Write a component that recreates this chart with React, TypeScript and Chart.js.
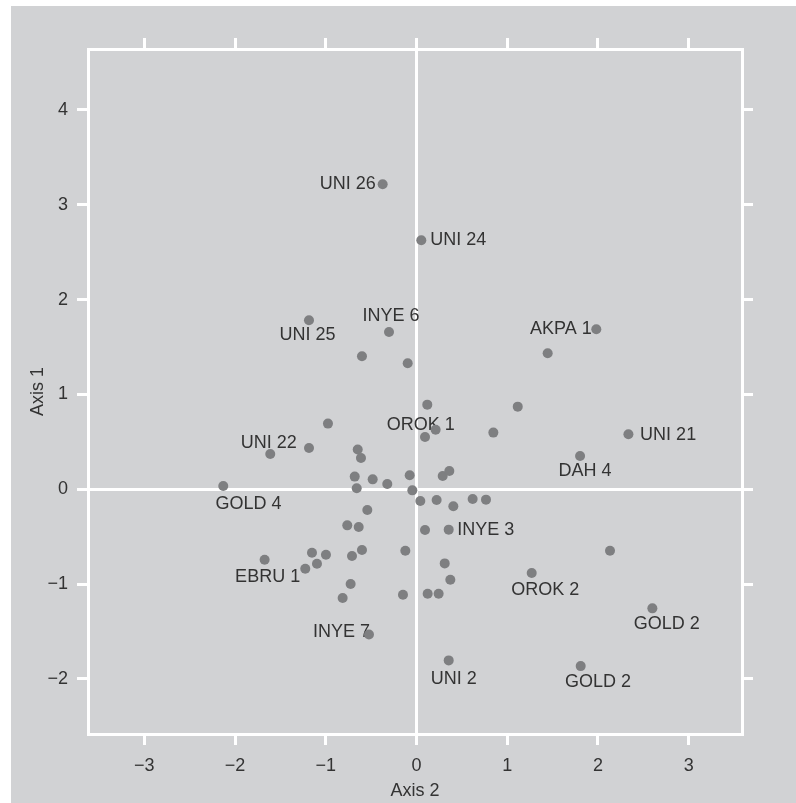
import React, { useEffect, useRef } from 'react';
import { Chart, registerables } from 'chart.js';

Chart.register(...registerables);

// ---- Data ----
const pointNames: string[] = [
  'UNI 26', 'UNI 24', 'UNI 25', 'INYE 6', '', '', 'AKPA 1', '', '', 'OROK 1',
  '', '', '', 'UNI 21', 'DAH 4', '', 'UNI 22', '', 'GOLD 4', '',
  '', '', '', '', '', '', '', '', '', '',
  '', '', '', '', '', '', '', '', 'INYE 3', '',
  '', '', '', '', '', 'OROK 2', '', '', '', 'GOLD 2',
  'UNI 2', 'GOLD 2', '', '', 'EBRU 1', '', '', '', '', 'INYE 7',
];

// Axis 2 (horizontal)
const axis2Values: number[] = [
  -0.373, 0.053, -1.185, -0.303, -0.601, -0.097, 1.982, 1.446, 0.119, 0.211,
  0.094, 0.847, 1.116, 2.336, 1.803, -0.976, -1.612, -1.185, -2.13, -0.648,
  -0.612, -0.681, -0.483, -0.322, -0.659, -0.075, -0.046, 0.289, 0.362, 0.042,
  0.222, 0.406, 0.619, 0.766, -0.542, -0.763, -0.637, 0.094, 0.355, -0.601,
  -0.711, -0.123, 2.133, 0.311, 0.373, 1.27, -0.149, 0.123, 0.244, 2.6,
  0.355, 1.81, -0.726, -0.814, -1.674, -1.152, -0.998, -1.097, -1.226, -0.524,
];

// Axis 1 (vertical)
const axis1Values: number[] = [
  3.217, 2.627, 1.783, 1.659, 1.403, 1.329, 1.688, 1.435, 0.893, 0.629,
  0.552, 0.598, 0.872, 0.58, 0.351, 0.693, 0.372, 0.436, 0.035, 0.419,
  0.331, 0.134, 0.105, 0.056, 0.011, 0.148, -0.011, 0.14, 0.193, -0.123,
  -0.113, -0.179, -0.102, -0.109, -0.218, -0.38, -0.397, -0.429, -0.425, -0.64,
  -0.703, -0.647, -0.647, -0.781, -0.953, -0.883, -1.111, -1.101, -1.101, -1.255,
  -1.804, -1.864, -0.999, -1.146, -0.742, -0.668, -0.689, -0.784, -0.837, -1.53,
];

const xTickValues: number[] = [-3, -2, -1, 0, 1, 2, 3];
const yTickValues: number[] = [-2, -1, 0, 1, 2, 3, 4];
const xRange: number[] = [-3.621, 3.588];
const yRange: number[] = [-2.58, 4.643];

const xTitle = 'Axis 2';
const yTitle = 'Axis 1';

// ---- Styles ----
const FONT = "'Liberation Sans', Arial, Helvetica, sans-serif";
const TEXT = '#333333';
const BG = '#d1d2d4';
const POINT = '#7e7f81';
const WHITE = '#ffffff';

// label placement (pixel offsets from the point, text alignment)
const labelStyle: Record<string, { align: CanvasTextAlign; dx: number; dy: number }> = {
  0: { align: 'right', dx: -7, dy: 0 },
  1: { align: 'left', dx: 9, dy: 0 },
  2: { align: 'center', dx: -1.5, dy: 15 },
  3: { align: 'center', dx: 2, dy: -16 },
  6: { align: 'right', dx: -4.5, dy: 0 },
  9: { align: 'center', dx: -15, dy: -5 },
  13: { align: 'left', dx: 11.7, dy: 0.7 },
  14: { align: 'center', dx: 5, dy: 15.3 },
  16: { align: 'center', dx: -1.5, dy: -11.4 },
  18: { align: 'center', dx: 25.2, dy: 18 },
  38: { align: 'left', dx: 8.6, dy: 0 },
  45: { align: 'center', dx: 13.6, dy: 17.3 },
  49: { align: 'center', dx: 14.5, dy: 15.3 },
  50: { align: 'center', dx: 5, dy: 18.7 },
  51: { align: 'center', dx: 17.3, dy: 16 },
  54: { align: 'center', dx: 3, dy: 17.4 },
  59: { align: 'right', dx: 1, dy: -2.7 },
};

const fmt = (v: any) => {
  const n = Number(v);
  return n < 0 ? '\u2212' + Math.abs(n) : String(n);
};

const bgPlugin = {
  id: 'panelBg',
  beforeDraw(chart: any) {
    const ctx = chart.ctx;
    ctx.save();
    ctx.fillStyle = BG;
    ctx.fillRect(11, 6, chart.width - 11, chart.height - 6);
    ctx.restore();
  },
};

const labelPlugin = {
  id: 'pointLabels',
  beforeDatasetsDraw(chart: any) {
    const ctx = chart.ctx;
    const xs = chart.scales.x;
    const ys = chart.scales.y;
    ctx.save();
    ctx.font = `18px ${FONT}`;
    ctx.fillStyle = TEXT;
    ctx.textBaseline = 'middle';
    pointNames.forEach((name, i) => {
      if (!name) return;
      const st = labelStyle[i] || { align: 'left', dx: 8, dy: 0 };
      const px = xs.getPixelForValue(axis2Values[i]);
      const py = ys.getPixelForValue(axis1Values[i]);
      ctx.textAlign = st.align;
      ctx.fillText(name, px + st.dx, py + st.dy);
    });
    ctx.restore();
  },
};

export default function App() {
  const ref = useRef<HTMLCanvasElement | null>(null);

  useEffect(() => {
    if (!ref.current) return;
    const tickFont = { family: FONT, size: 18 };
    const baseGrid = {
      display: true,
      drawTicks: true,
      tickLength: 11,
      tickWidth: 3,
      tickColor: WHITE,
      lineWidth: 3,
    };
    const border = { display: true, color: WHITE, width: 3 };
    const setXTicks = (s: any) => {
      s.ticks = xTickValues.map((v) => ({ value: v }));
    };
    const setYTicks = (s: any) => {
      s.ticks = yTickValues.map((v) => ({ value: v }));
    };
    const zeroColor = (c: any) =>
      c.tick && c.tick.value === 0 ? WHITE : 'rgba(0,0,0,0)';

    const chart = new Chart(ref.current, {
      type: 'scatter',
      data: {
        datasets: [
          {
            data: axis2Values.map((x, i) => ({ x, y: axis1Values[i] })),
            backgroundColor: POINT,
            borderWidth: 0,
            pointRadius: 5,
            pointHoverRadius: 5,
          },
        ],
      },
      options: {
        responsive: false,
        animation: false,
        devicePixelRatio: 1,
        layout: { padding: 0 },
        plugins: {
          legend: { display: false },
          tooltip: { enabled: false },
          title: { display: false },
        },
        scales: {
          x: {
            type: 'linear',
            position: 'bottom',
            min: xRange[0],
            max: xRange[1],
            afterBuildTicks: setXTicks,
            afterFit: (s: any) => {
              s.height = 69;
            },
            grid: { ...baseGrid, drawOnChartArea: true, color: zeroColor },
            border,
            ticks: {
              color: TEXT,
              font: tickFont,
              padding: 10,
              maxRotation: 0,
              autoSkip: false,
              callback: fmt,
            },
            title: {
              display: true,
              text: xTitle,
              color: TEXT,
              font: tickFont,
              padding: { top: 0, bottom: 1.5 },
            },
          },
          y: {
            type: 'linear',
            position: 'left',
            min: yRange[0],
            max: yRange[1],
            afterBuildTicks: setYTicks,
            afterFit: (s: any) => {
              s.width = 88;
            },
            grid: { ...baseGrid, drawOnChartArea: true, color: zeroColor },
            border,
            ticks: {
              color: TEXT,
              font: tickFont,
              padding: 9,
              autoSkip: false,
              callback: fmt,
            },
            title: {
              display: true,
              text: yTitle,
              color: TEXT,
              font: tickFont,
              padding: { top: 27, bottom: 0 },
            },
          },
          x2: {
            type: 'linear',
            position: 'top',
            min: xRange[0],
            max: xRange[1],
            afterBuildTicks: setXTicks,
            afterFit: (s: any) => {
              s.height = 49;
            },
            grid: { ...baseGrid, drawOnChartArea: false, color: 'rgba(0,0,0,0)' },
            border,
            ticks: { display: false },
          },
          y2: {
            type: 'linear',
            position: 'right',
            min: yRange[0],
            max: yRange[1],
            afterBuildTicks: setYTicks,
            afterFit: (s: any) => {
              s.width = 54;
            },
            grid: { ...baseGrid, drawOnChartArea: false, color: 'rgba(0,0,0,0)' },
            border,
            ticks: { display: false },
          },
        },
      } as any,
      plugins: [bgPlugin, labelPlugin],
    });
    return () => chart.destroy();
  }, []);

  return (
    <div style={{ position: 'absolute', left: 0, top: 0, width: 796, height: 803 }}>
      <canvas ref={ref} width={796} height={803} style={{ display: 'block' }} />
    </div>
  );
}
